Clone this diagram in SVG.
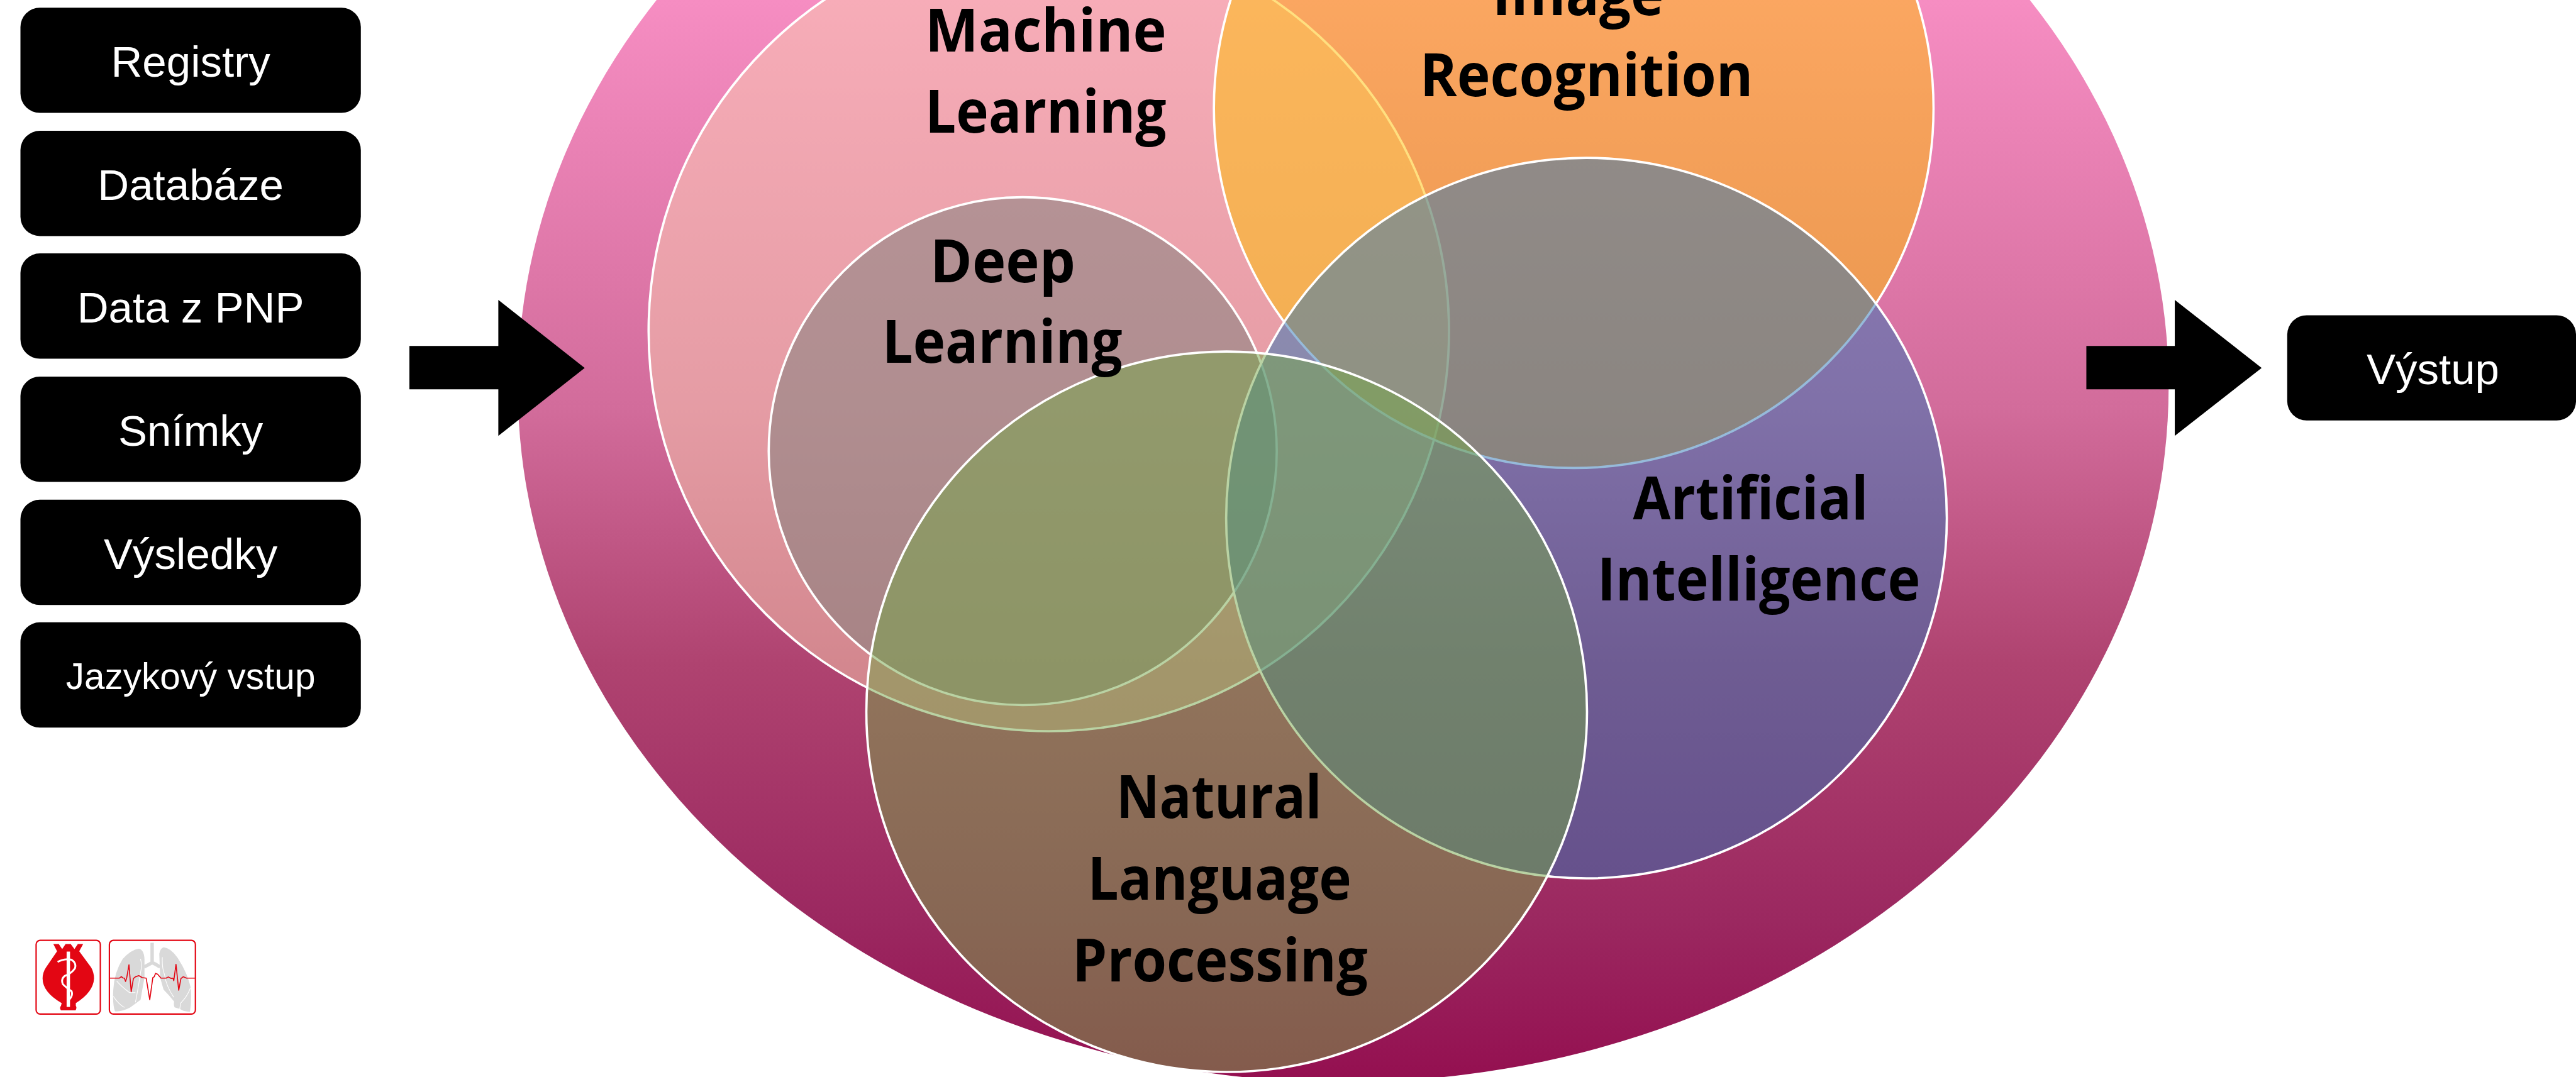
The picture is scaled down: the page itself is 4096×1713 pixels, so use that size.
<svg xmlns="http://www.w3.org/2000/svg" width="4096" height="1713" viewBox="0 0 4096 1713">
<style>
.box{fill:#000}
.bt{fill:#fff;font-family:"Liberation Sans",Arial,sans-serif;font-size:85px;text-anchor:middle}
.c{stroke:#fff;stroke-width:4.5;fill-opacity:.5}
.lb{fill:#000;font-family:"Open Sans","Liberation Sans",sans-serif;font-weight:700;font-size:116px}
.vein{fill:none;stroke:#fff;stroke-width:4}
</style>
<defs>
<linearGradient id="bg" gradientUnits="userSpaceOnUse" x1="0" y1="0" x2="0" y2="2120">
<stop offset="0" stop-color="#F68DC2"/><stop offset="0.377" stop-color="#D26C9B"/><stop offset="0.613" stop-color="#AF4370"/><stop offset="0.85" stop-color="#9B2860"/><stop offset="1" stop-color="#940F50"/>
</linearGradient>
</defs>
<rect width="4096" height="1713" fill="#fff"/>
<g transform="scale(0.8127)">
<g id="venn-base"><ellipse cx="2628" cy="756" rx="1615" ry="1362" fill="url(#bg)"/></g>
<g id="machine-learning"><circle class="c" cx="2052" cy="648" r="783" fill="#F8CBAD"/></g>
<g id="deep-learning"><circle class="c" cx="2001" cy="883" r="497" fill="#7C7F7C"/></g>
<g id="image-recognition"><circle class="c" cx="3079" cy="212" r="704" fill="#FFC000"/></g>
<g id="artificial-intelligence"><circle class="c" cx="3104" cy="1014" r="705" fill="#2E75B6"/></g>
<g id="nlp"><circle class="c" cx="2400" cy="1393" r="705" fill="#74A547"/></g>
<g id="venn-labels">
<text class="lb" x="1810" y="101" textLength="472" lengthAdjust="spacingAndGlyphs">Machine</text>
<text class="lb" x="1810" y="260" textLength="472" lengthAdjust="spacingAndGlyphs">Learning</text>
<text class="lb" x="2920" y="29" textLength="335" lengthAdjust="spacingAndGlyphs">Image</text>
<text class="lb" x="2778" y="188" textLength="652" lengthAdjust="spacingAndGlyphs">Recognition</text>
<text class="lb" x="1820" y="552" textLength="284" lengthAdjust="spacingAndGlyphs">Deep</text>
<text class="lb" x="1726" y="710" textLength="470" lengthAdjust="spacingAndGlyphs">Learning</text>
<text class="lb" x="3195" y="1016" textLength="460" lengthAdjust="spacingAndGlyphs">Artificial</text>
<text class="lb" x="3125" y="1175" textLength="632" lengthAdjust="spacingAndGlyphs">Intelligence</text>
<text class="lb" x="2184" y="1601" textLength="402" lengthAdjust="spacingAndGlyphs">Natural</text>
<text class="lb" x="2128" y="1761" textLength="516" lengthAdjust="spacingAndGlyphs">Language</text>
<text class="lb" x="2098" y="1921" textLength="578" lengthAdjust="spacingAndGlyphs">Processing</text>
</g>
<g id="registry"><rect class="box" x="40" y="15" width="666" height="206" rx="38"/><text class="bt" x="373" y="150">Registry</text></g>
<g id="databaze"><rect class="box" x="40" y="256" width="666" height="206" rx="38"/><text class="bt" x="373" y="391">Databáze</text></g>
<g id="data-pnp"><rect class="box" x="40" y="496" width="666" height="206" rx="38"/><text class="bt" x="373" y="631">Data z PNP</text></g>
<g id="snimky"><rect class="box" x="40" y="737" width="666" height="206" rx="38"/><text class="bt" x="373" y="872">Snímky</text></g>
<g id="vysledky"><rect class="box" x="40" y="978" width="666" height="206" rx="38"/><text class="bt" x="373" y="1113">Výsledky</text></g>
<g id="jazykovy"><rect class="box" x="40" y="1218" width="666" height="206" rx="38"/><text class="bt" style="font-size:72px" x="373" y="1349">Jazykový vstup</text></g>
<g id="vystup"><rect class="box" x="4475" y="617" width="565" height="206" rx="38"/><text class="bt" x="4760" y="752">Výstup</text></g>
<g id="connectors">
<polygon points="801,677 975,677 975,587 1144,720 975,853 975,762 801,762" fill="#000"/>
<polygon points="4082,677 4255,677 4255,587 4425,720 4255,853 4255,762 4082,762" fill="#000"/>
</g>
<g id="logo" transform="translate(0,1780) scale(0.33333)">
<rect x="212" y="181" width="377" height="433" rx="24" fill="#fff" stroke="#E30613" stroke-width="8"/>
<rect x="642" y="181" width="505" height="433" rx="24" fill="#fff" stroke="#E30613" stroke-width="8"/>
<path fill="#E30613" d="M313,203 L345,203 L365,232 L385,203 L415,203 L437,232 L457,203 L488,203 L465,245 L535,340 Q552,370 552,405 Q548,485 445,550 L445,565 Q453,578 443,592 L358,592 Q347,578 358,565 L362,550 Q250,485 250,405 Q250,370 270,340 L335,245 Z"/>
<rect x="391" y="247" width="20" height="325" fill="#fff"/>
<path fill="none" stroke="#fff" stroke-width="11" d="M338,308 Q380,285 420,295 Q450,315 440,345 Q420,375 380,390 Q355,410 370,440 Q395,465 420,480 Q430,505 405,530 L398,560"/>
<path fill="#D9D9D9" d="M815,230 Q845,235 848,290 L848,400 Q835,470 825,530 L765,575 Q720,600 675,598 Q660,560 665,470 Q670,370 720,290 Q770,235 815,230 Z"/>
<path fill="#D9D9D9" d="M960,222 Q1000,225 1040,280 Q1100,370 1120,460 Q1125,540 1115,600 Q1075,600 1058,585 L1025,575 Q1018,560 1022,540 Q990,500 960,470 L940,400 L935,260 Q940,228 960,222 Z"/>
<path fill="none" stroke="#D9D9D9" stroke-width="20" d="M893,195 L893,310 M893,312 Q870,325 845,338 M893,312 Q915,320 940,338"/>
<path class="vein" d="M825,290 Q835,330 825,370 Q815,440 795,545"/>
<path class="vein" d="M685,420 Q710,450 760,488 L795,488"/>
<path class="vein" d="M665,510 Q695,555 730,575"/>
<path class="vein" d="M953,280 Q950,340 965,380 Q975,450 1020,515"/>
<path class="vein" d="M1118,460 Q1100,510 1060,550 L1055,585"/>
<polyline fill="none" stroke="#E30613" stroke-width="6" stroke-linejoin="round" points="646,403 700,403 712,394 722,402 730,403 737,422 744,400 757,325 770,483 783,405 795,395 815,388 835,400 858,403 879,530 897,400 905,395 913,375 925,380 945,403 975,403 988,396 1005,405 1015,403 1020,418 1033,322 1049,474 1062,405 1075,395 1095,403 1144,403"/>
</g>
</g>
</svg>
